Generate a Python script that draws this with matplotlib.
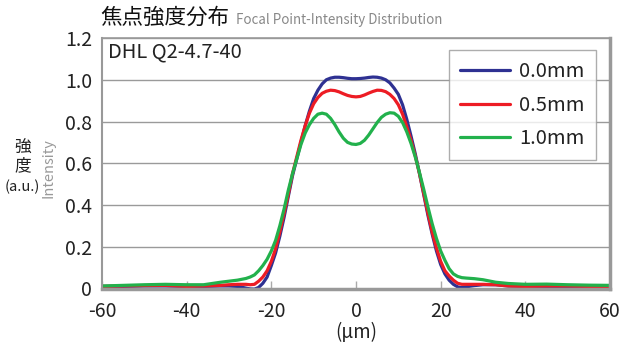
import matplotlib
matplotlib.use("Agg")
import matplotlib.pyplot as plt

plt.rcParams['font.family'] = ['Noto Sans CJK JP', 'DejaVu Sans']
plt.rcParams['axes.unicode_minus'] = False

# distance (um)
pos = [-60, -55, -50, -45, -40, -36, -32, -30, -28, -26, -25, -24, -23, -22, -21,
       -20, -19, -18, -17, -16, -15, -14, -13, -12, -11, -10, -9, -8, -7, -6, -5,
       -4, -3, -2, -1, 0, 1, 2, 3, 4, 5, 6, 7, 8, 9, 10, 11, 12, 13, 14, 15, 16,
       17, 18, 19, 20, 21, 22, 23, 24, 25, 26, 28, 30, 33, 36, 40, 45, 50, 55, 60]

i_00 = [0.010, 0.010, 0.012, 0.012, 0.010, 0.010, 0.012, 0.012, 0.010, 0.002, -0.002, -0.003, 0.005, 0.025, 0.055,
        0.110, 0.170, 0.250, 0.340, 0.440, 0.540, 0.620, 0.700, 0.780, 0.850, 0.910, 0.950, 0.980, 1.000, 1.008, 1.012,
        1.012, 1.010, 1.007, 1.005, 1.005, 1.006, 1.008, 1.011, 1.013, 1.012, 1.008, 1.000, 0.985, 0.960, 0.930, 0.880, 0.810, 0.730, 0.645, 0.550, 0.450,
        0.350, 0.260, 0.180, 0.115, 0.070, 0.040, 0.020, 0.008, 0.004, 0.008, 0.014, 0.018, 0.018, 0.012, 0.010, 0.010, 0.010, 0.010, 0.010]

i_05 = [0.010, 0.012, 0.014, 0.015, 0.010, 0.012, 0.015, 0.018, 0.020, 0.020, 0.018, 0.020, 0.035, 0.055, 0.085,
        0.130, 0.190, 0.270, 0.360, 0.450, 0.550, 0.630, 0.710, 0.780, 0.840, 0.885, 0.915, 0.935, 0.945, 0.950, 0.948,
        0.942, 0.933, 0.925, 0.920, 0.918, 0.920, 0.927, 0.936, 0.944, 0.950, 0.949, 0.943, 0.930, 0.910, 0.880, 0.835, 0.775, 0.710, 0.635, 0.550, 0.455,
        0.360, 0.270, 0.195, 0.130, 0.085, 0.060, 0.040, 0.025, 0.020, 0.020, 0.020, 0.020, 0.018, 0.012, 0.010, 0.012, 0.012, 0.010, 0.010]

i_10 = [0.012, 0.015, 0.018, 0.020, 0.018, 0.018, 0.030, 0.035, 0.040, 0.048, 0.055, 0.065, 0.085, 0.110, 0.140,
        0.180, 0.230, 0.300, 0.380, 0.470, 0.550, 0.620, 0.690, 0.745, 0.785, 0.815, 0.835, 0.840, 0.835, 0.815, 0.785,
        0.750, 0.720, 0.700, 0.692, 0.690, 0.695, 0.710, 0.735, 0.765, 0.795, 0.820, 0.835, 0.842, 0.840, 0.825, 0.795, 0.750, 0.695, 0.630, 0.555, 0.475,
        0.390, 0.310, 0.240, 0.180, 0.135, 0.095, 0.070, 0.058, 0.052, 0.050, 0.047, 0.042, 0.030, 0.024, 0.020, 0.021, 0.018, 0.016, 0.015]

labels = ['0.0mm', '0.5mm', '1.0mm']
colors = ['#2e3192', '#ed1c24', '#22b14c']

W, H = 622, 344
fig = plt.figure(figsize=(W / 100, H / 100), dpi=100)
ax = fig.add_axes([102 / W, 1 - 288.5 / H, (610 - 102) / W, (288.5 - 38) / H])

for ys, lab, c in zip([i_00, i_05, i_10], labels, colors):
    ax.plot(pos, ys, color=c, lw=2.3, label=lab, solid_capstyle='round')

ax.set_xlim(-60, 60)
ax.set_ylim(0, 1.2)
ax.set_xticks(range(-60, 61, 20))
ax.set_yticks([0, 0.2, 0.4, 0.6, 0.8, 1.0, 1.2])
ax.set_yticklabels(['0', '0.2', '0.4', '0.6', '0.8', '1.0', '1.2'])
ax.grid(axis='y', color='#9a9a9a', lw=1)
ax.set_axisbelow(True)
ax.tick_params(axis='x', direction='in', length=6, width=1, color='#aaaaaa',
               labelsize=14, labelcolor='#222222', pad=9)
ax.tick_params(axis='y', length=0, labelsize=14, labelcolor='#222222', pad=7)

for side, w in [('left', 1.5), ('right', 2.5), ('top', 1.2), ('bottom', 2.5)]:
    ax.spines[side].set_color('#999999')
    ax.spines[side].set_linewidth(w)

ax.text(0.012, 0.985, 'DHL Q2-4.7-40', transform=ax.transAxes, ha='left', va='top',
        fontsize=14.5, color='#222222')

leg = ax.legend(loc='upper right', bbox_to_anchor=(0.972, 0.952), fontsize=14.5,
                frameon=True, fancybox=False, handlelength=2.5, handletextpad=0.45,
                borderpad=0.55, labelspacing=0.62, borderaxespad=0)
leg.get_frame().set_edgecolor('#999999')
leg.get_frame().set_linewidth(1)
for t in leg.get_texts():
    t.set_color('#222222')

# titles and axis labels
fig.text(100 / W, 1 - 18 / H, '焦点強度分布', fontsize=15.5, color='#111111', va='center', ha='left')
fig.text(236 / W, 1 - 20 / H, 'Focal Point-Intensity Distribution', fontsize=9.6,
         color='#888888', va='center', ha='left')
fig.text(23 / W, 1 - 148 / H, '強', fontsize=12, color='#222222', ha='center', va='center')
fig.text(23 / W, 1 - 166 / H, '度', fontsize=12, color='#222222', ha='center', va='center')
fig.text(22 / W, 1 - 187 / H, '(a.u.)', fontsize=10.5, color='#222222', ha='center', va='center')
fig.text(48 / W, 1 - 168 / H, 'Intensity', fontsize=10.5, color='#999999', ha='center', va='center',
         rotation=90)
fig.text(356 / W, 1 - 333 / H, '(µm)', fontsize=13.5, color='#222222', ha='center', va='center')

fig.savefig('out.png', dpi=100)
